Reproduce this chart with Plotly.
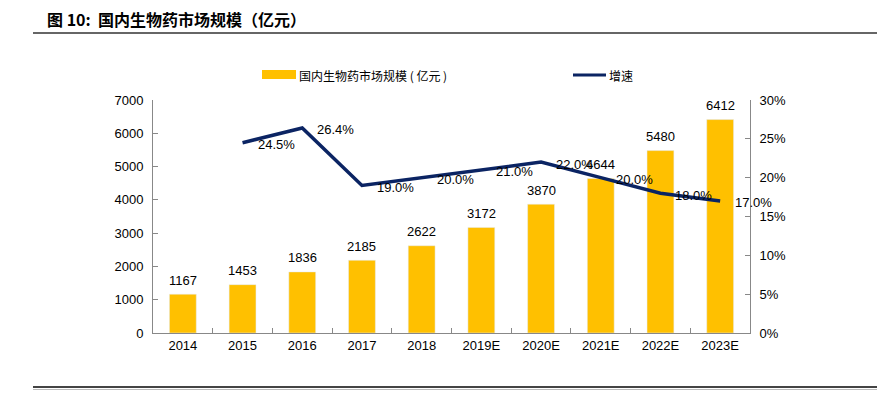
import plotly.graph_objects as go

categories = ["2014", "2015", "2016", "2017", "2018", "2019E", "2020E", "2021E", "2022E", "2023E"]
market_size = [1167, 1453, 1836, 2185, 2622, 3172, 3870, 4644, 5480, 6412]
growth_cats = ["2015", "2016", "2017", "2018", "2019E", "2020E", "2021E", "2022E", "2023E"]
growth = [24.5, 26.4, 19.0, 20.0, 21.0, 22.0, 20.0, 18.0, 17.0]
y1_ticks = [0, 1000, 2000, 3000, 4000, 5000, 6000, 7000]
y2_ticks = [0, 5, 10, 15, 20, 25, 30]

BAR = "#FFC000"
LINE = "#0B2463"
FONT = "Liberation Sans, Arial, sans-serif"
CJK = "Noto Sans CJK SC, sans-serif"

# page has an 8px body margin; work in page coordinates and convert
OFF = 8
W, H = 887, 395
PX0, PX1, PY0, PY1 = 153, 750, 100, 333  # plot area in page pixels
L, T = PX0 - OFF, PY0 - OFF
R, B = W - (PX1 - OFF), H - (PY1 - OFF)
PW, PH = PX1 - PX0, PY1 - PY0

def px_x(x):
    return (x - PX0) / PW

def px_y(y):
    return (PY1 - y) / PH

fig = go.Figure()
fig.add_trace(go.Bar(
    x=categories, y=market_size, marker_color=BAR, width=0.45,
    name="国内生物药市场规模（亿元）", showlegend=False))
fig.add_trace(go.Scatter(
    x=growth_cats, y=growth, yaxis="y2", mode="lines",
    line=dict(color=LINE, width=3.5), cliponaxis=False,
    name="增速", showlegend=False))

for i, v in enumerate(market_size):
    fig.add_annotation(x=i, y=v, xref="x", yref="y", text=str(v),
                       showarrow=False, xanchor="center", yanchor="middle",
                       yshift=14, font=dict(family=FONT, size=13, color="#000"))

for c, v in zip(growth_cats, growth):
    fig.add_annotation(x=categories.index(c), y=v, xref="x", yref="y2", text=f"{v:.1f}%",
                       showarrow=False, xanchor="left", yanchor="middle",
                       xshift=13, yshift=-2,
                       font=dict(family=FONT, size=13, color="#000"))

fig.update_layout(
    width=W, height=H,
    margin=dict(l=L, r=R, t=T, b=B),
    paper_bgcolor="white", plot_bgcolor="white",
    font=dict(family=FONT, size=13, color="#000"),
    xaxis=dict(type="category", categoryorder="array", categoryarray=categories,
               range=[-0.5, len(categories) - 0.5],
               showline=True, linecolor="#888", linewidth=1,
               ticks="inside", tickson="boundaries", ticklen=5, tickcolor="#888",
               showgrid=False, tickfont=dict(size=13), tickangle=0),
    yaxis=dict(range=[0, 7000], tickvals=y1_ticks, showline=True, linecolor="#888",
               ticks="inside", ticklen=5, tickcolor="#888", showgrid=False, zeroline=False,
               ticklabelstandoff=6),
    yaxis2=dict(range=[0, 30], tickvals=y2_ticks, ticktext=[f"{v}%" for v in y2_ticks],
                overlaying="y", side="right", showline=True, linecolor="#888",
                ticks="inside", ticklen=5, tickcolor="#888", showgrid=False, zeroline=False,
                ticklabelstandoff=6),
    bargap=0.55,
)

# title
fig.add_annotation(xref="paper", yref="paper", x=px_x(45), y=px_y(19),
                   xanchor="left", yanchor="middle", showarrow=False,
                   text="<b>图 10:  国内生物药市场规模（亿元）</b>",
                   font=dict(family=CJK, size=16, color="#000"))
# rules
fig.add_shape(type="line", xref="paper", yref="paper",
              x0=px_x(33), x1=px_x(877), y0=px_y(33), y1=px_y(33),
              line=dict(color="#333", width=1.5))
fig.add_shape(type="line", xref="paper", yref="paper",
              x0=px_x(33), x1=px_x(877), y0=px_y(387), y1=px_y(387),
              line=dict(color="#444", width=2))
fig.add_shape(type="line", xref="paper", yref="paper",
              x0=px_x(33), x1=px_x(877), y0=px_y(389.5), y1=px_y(389.5),
              line=dict(color="#bbb", width=1))

# manual legend
fig.add_shape(type="rect", xref="paper", yref="paper",
              x0=px_x(262), x1=px_x(296), y0=px_y(79), y1=px_y(70),
              fillcolor=BAR, line=dict(width=0))
fig.add_annotation(xref="paper", yref="paper", x=px_x(297), y=px_y(75),
                   xanchor="left", yanchor="middle", showarrow=False,
                   text="国内生物药市场规模 ( 亿元 )", font=dict(family=CJK, size=12, color="#000"))
fig.add_shape(type="line", xref="paper", yref="paper",
              x0=px_x(573), x1=px_x(606), y0=px_y(75), y1=px_y(75),
              line=dict(color=LINE, width=3))
fig.add_annotation(xref="paper", yref="paper", x=px_x(607), y=px_y(75),
                   xanchor="left", yanchor="middle", showarrow=False,
                   text="增速", font=dict(family=CJK, size=12, color="#000"))

fig.write_html("out.html", config={"displayModeBar": False})
